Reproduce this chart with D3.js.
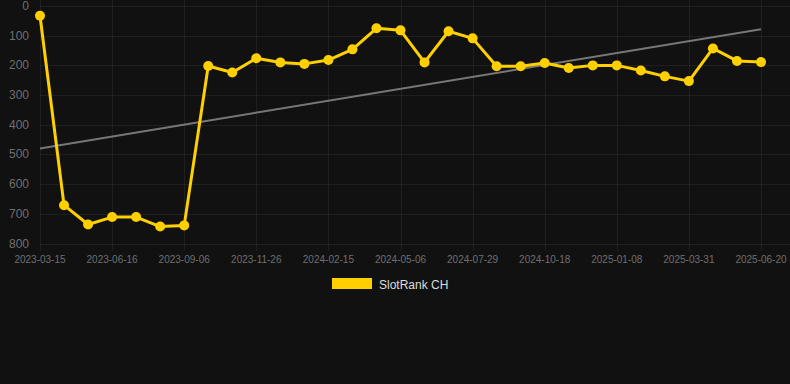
<!DOCTYPE html>
<html>
<head>
<meta charset="utf-8">
<script src="https://cdn.jsdelivr.net/npm/d3@7"></script>
<style>
  html, body { margin: 0; padding: 0; background: #111111; }
  svg { display: block; }
</style>
</head>
<body>
<svg id="chart" width="790" height="384"></svg>
<script>
const categories = [
  "2023-03-15","2023-04-15","2023-05-16","2023-06-16","2023-07-13","2023-08-09",
  "2023-09-06","2023-10-03","2023-10-30","2023-11-26","2023-12-23","2024-01-19",
  "2024-02-15","2024-03-12","2024-04-09","2024-05-06","2024-06-03","2024-07-01",
  "2024-07-29","2024-08-25","2024-09-21","2024-10-18","2024-11-14","2024-12-11",
  "2025-01-08","2025-02-04","2025-03-04","2025-03-31","2025-04-27","2025-05-24",
  "2025-06-20"
];
const rankValues = [
  33, 671, 736, 711, 711, 743,
  739, 202, 224, 176, 190, 195,
  182, 146, 75, 82, 190, 85,
  109, 203, 203, 192, 209, 200,
  200, 217, 237, 253, 143, 185,
  189
];
const trendValues = [480, 78];
const yTicks = [0, 100, 200, 300, 400, 500, 600, 700, 800];
const xTickLabels = categories.filter((d, i) => i % 3 === 0);
const seriesName = "SlotRank CH";

const svg = d3.select("#chart");
const W = 790;
const x = d3.scalePoint().domain(categories).range([40, 761]);
const y = d3.scaleLinear().domain([0, 800]).range([6, 243.5]);

const gridColor = "rgba(255,255,255,0.06)";
const textColor = "#6f6f6f";
const gold = "#ffd000";

// horizontal grid
svg.append("g").selectAll("line").data(yTicks).join("line")
  .attr("x1", 40).attr("x2", W)
  .attr("y1", d => Math.round(y(d)) + 0.5).attr("y2", d => Math.round(y(d)) + 0.5)
  .attr("stroke", gridColor).attr("stroke-width", 1);

// vertical grid
svg.append("g").selectAll("line").data(xTickLabels).join("line")
  .attr("x1", d => Math.round(x(d)) + 0.5).attr("x2", d => Math.round(x(d)) + 0.5)
  .attr("y1", 0).attr("y2", 251)
  .attr("stroke", gridColor).attr("stroke-width", 1);

// y axis labels
svg.append("g").selectAll("text").data(yTicks).join("text")
  .attr("x", 29).attr("y", d => y(d))
  .attr("text-anchor", "end").attr("dominant-baseline", "central")
  .attr("font-family", "Liberation Sans, Arial, sans-serif")
  .attr("font-size", 12).attr("fill", textColor)
  .text(d => d);

// x axis labels
svg.append("g").selectAll("text").data(xTickLabels).join("text")
  .attr("x", d => x(d)).attr("y", 259)
  .attr("text-anchor", "middle").attr("dominant-baseline", "central")
  .attr("font-family", "Liberation Sans, Arial, sans-serif")
  .attr("font-size", 10).attr("fill", textColor)
  .text(d => d);

// trend line
svg.append("line")
  .attr("x1", x(categories[0])).attr("y1", y(trendValues[0]))
  .attr("x2", x(categories[categories.length - 1])).attr("y2", y(trendValues[1]))
  .attr("stroke", "#777777").attr("stroke-width", 2);

// series line
const line = d3.line().x((d, i) => x(categories[i])).y(d => y(d));
svg.append("path").datum(rankValues)
  .attr("d", line).attr("fill", "none")
  .attr("stroke", gold).attr("stroke-width", 3).attr("stroke-linejoin", "round");

svg.append("g").selectAll("circle").data(rankValues).join("circle")
  .attr("cx", (d, i) => x(categories[i])).attr("cy", d => y(d))
  .attr("r", 5).attr("fill", gold);

// legend
const lg = svg.append("g");
lg.append("rect").attr("x", 332.5).attr("y", 278.5).attr("width", 39).attr("height", 10)
  .attr("fill", gold).attr("stroke", gold).attr("stroke-width", 1);
lg.append("text").attr("x", 379).attr("y", 284.5)
  .attr("dominant-baseline", "central")
  .attr("font-family", "Liberation Sans, Arial, sans-serif")
  .attr("font-size", 12).attr("fill", "#dddddd")
  .text(seriesName);
</script>
</body>
</html>
